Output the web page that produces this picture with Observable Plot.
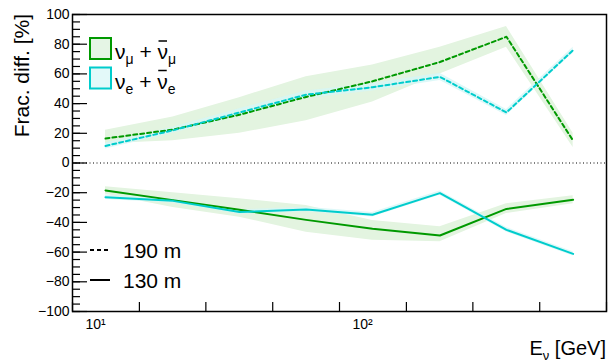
<!DOCTYPE html>
<html><head><meta charset="utf-8">
<script src="https://cdn.jsdelivr.net/npm/d3@7"></script>
<script src="https://cdn.jsdelivr.net/npm/@observablehq/plot@0.6"></script>
<style>body{margin:0;background:#fff} svg{display:block}</style>
</head><body><div id="c"></div><script>
// Bin centres (GeV) and bin edges of the log-binned x axis
const energy   = [10.9, 19.5, 34.6, 61.5, 109, 195, 346, 615];
const binEdges = [8.2, 14.6, 25.9, 46.1, 82, 146, 259, 461, 820];
const xTickValues = [10, 100];
const xTickLabels = ["10¹", "10²"];
const yMajor = [-100, -80, -60, -40, -20, 0, 20, 40, 60, 80, 100];
const yMinor = d3.range(-100, 101, 5);

// 190 m (dashed)
const numu190   = [16.5, 22.5, 32.5, 44.5, 55, 68, 85, 15];
const numu190Lo = [13, 15, 20, 28.5, 41, 60, 78, 10.5];
const numu190Hi = [22, 31, 44, 58, 66, 78, 92, 20];
const nue190    = [11.5, 22, 34, 46, 51, 58, 34, 76];
const nue190Lo  = [9.5, 20, 31.5, 43.5, 48.5, 55.5, 32, 74];
const nue190Hi  = [13.5, 24, 36.5, 48.5, 53.5, 60.5, 36, 78];
// 130 m (solid)
const numu130   = [-18.5, -25, -31.5, -38.3, -44.3, -48.8, -30.9, -24.8];
const numu130Lo = [-21, -30, -36.5, -46.6, -52, -53, -34, -27.5];
const numu130Hi = [-16, -20, -24, -28.6, -38.7, -43, -27.5, -22];
const nue130    = [-23, -25.5, -33, -31.3, -34.9, -20.3, -45, -61.2];
const nue130Lo  = [-24.5, -27, -34.5, -32.8, -36.4, -21.8, -46.5, -62.7];
const nue130Hi  = [-21.5, -24, -31.5, -29.8, -33.4, -18.8, -43.5, -59.7];

const green = "#009900", cyan = "#00cccc";
const bandGreen = "#e3f4e0", bandCyan = "#d4f6f6";

const rows = energy.map((e, i) => ({
  e,
  g190: numu190[i], g190lo: numu190Lo[i], g190hi: numu190Hi[i],
  c190: nue190[i], c190lo: nue190Lo[i], c190hi: nue190Hi[i],
  g130: numu130[i], g130lo: numu130Lo[i], g130hi: numu130Hi[i],
  c130: nue130[i], c130lo: nue130Lo[i], c130hi: nue130Hi[i]
}));

const W = 608, H = 362, mL = 72, mR = 2, mT = 14, mB = 51;
const fw = W - mL - mR, fh = H - mT - mB;

const plot = Plot.plot({
  width: W, height: H, marginLeft: mL, marginRight: mR, marginTop: mT, marginBottom: mB,
  style: {fontFamily: "'Liberation Sans', Arial, sans-serif", fontSize: "14px", color: "#000", background: "#fff"},
  x: {type: "log", domain: [binEdges[0], binEdges[binEdges.length - 1]], axis: null},
  y: {domain: [-100, 100], axis: null},
  marks: [
    Plot.areaY(rows, {x: "e", y1: "g190lo", y2: "g190hi", fill: bandGreen}),
    Plot.areaY(rows, {x: "e", y1: "g130lo", y2: "g130hi", fill: bandGreen}),
    Plot.areaY(rows, {x: "e", y1: "c190lo", y2: "c190hi", fill: bandCyan, fillOpacity: 0.8}),
    Plot.areaY(rows, {x: "e", y1: "c130lo", y2: "c130hi", fill: bandCyan, fillOpacity: 0.8}),
    Plot.ruleY([0], {stroke: "#000", strokeDasharray: "1,2.5", strokeWidth: 1}),
    Plot.lineY(rows, {x: "e", y: "g190", stroke: green, strokeWidth: 2, strokeDasharray: "4,3"}),
    Plot.lineY(rows, {x: "e", y: "c190", stroke: cyan, strokeWidth: 2, strokeDasharray: "4,3"}),
    Plot.lineY(rows, {x: "e", y: "g130", stroke: green, strokeWidth: 2}),
    Plot.lineY(rows, {x: "e", y: "c130", stroke: cyan, strokeWidth: 2}),
    Plot.tickY(yMinor, {y: d => d, insetRight: fw - 8, stroke: "#000", strokeWidth: 1.2}),
    Plot.tickY(yMajor, {y: d => d, insetRight: fw - 15, stroke: "#000", strokeWidth: 1.2}),
    Plot.tickX(binEdges, {x: d => d, insetTop: fh - 9, stroke: "#000", strokeWidth: 1.2}),
    Plot.axisY({ticks: yMajor, tickSize: 0, tickPadding: 3, label: null, fontSize: 14}),
    Plot.axisX({ticks: xTickValues, tickSize: 0, tickPadding: 8, label: null, fontSize: 14,
                tickFormat: d => xTickLabels[xTickValues.indexOf(d)]}),
    Plot.frame({stroke: "#000", strokeWidth: 1.5})
  ]
});
document.getElementById("c").appendChild(plot);

const svg = d3.select(plot);
const font = "'Liberation Sans', Arial, sans-serif";

// Axis titles
svg.append("text").attr("transform", `translate(29,${mT}) rotate(-90)`)
  .attr("text-anchor", "end").attr("font-family", font).attr("font-size", 21).attr("fill", "#000")
  .text("Frac. diff. [%]");
const xt = svg.append("text").attr("x", W - 2).attr("y", 355).attr("text-anchor", "end")
  .attr("font-family", font).attr("font-size", 20).attr("fill", "#000");
xt.append("tspan").text("E");
xt.append("tspan").attr("font-size", 13).attr("dy", 5).text("ν");
xt.append("tspan").attr("dy", -5).text(" [GeV]");

// Legend: flavours
function flavour(y0, sub, fillC, strokeC) {
  svg.append("rect").attr("x", 90).attr("y", y0).attr("width", 21).attr("height", 21)
    .attr("fill", fillC).attr("stroke", strokeC).attr("stroke-width", 2);
  const t = svg.append("text").attr("x", 115).attr("y", y0 + 21).attr("text-anchor", "start")
    .attr("font-family", font).attr("font-size", 21).attr("fill", "#000");
  t.append("tspan").text("ν");
  t.append("tspan").attr("font-size", 14).attr("dy", 5).text(sub);
  t.append("tspan").attr("dy", -5).text(" + ");
  t.append("tspan").text("ν");
  t.append("tspan").attr("font-size", 14).attr("dy", 5).text(sub);
  const node = t.node();
  const ext = node.getExtentOfChar(5);
  svg.append("line").attr("x1", ext.x + 1).attr("x2", ext.x + ext.width - 1)
    .attr("y1", y0 + 21 - 18).attr("y2", y0 + 21 - 18).attr("stroke", "#000").attr("stroke-width", 1.5);
}
flavour(38, "μ", "#e5f5e5", green);
flavour(67.5, "e", "#e3f9f9", cyan);

// Legend: baselines
function dist(y, dash, label) {
  svg.append("line").attr("x1", 90).attr("x2", 110).attr("y1", y).attr("y2", y)
    .attr("stroke", "#000").attr("stroke-width", 2).attr("stroke-dasharray", dash);
  svg.append("text").attr("x", 123).attr("y", y + 7.5).attr("text-anchor", "start")
    .attr("font-family", font).attr("font-size", 21).attr("fill", "#000").text(label);
}
dist(250, "4,3", "190 m");
dist(280, null, "130 m");
</script></body></html>
